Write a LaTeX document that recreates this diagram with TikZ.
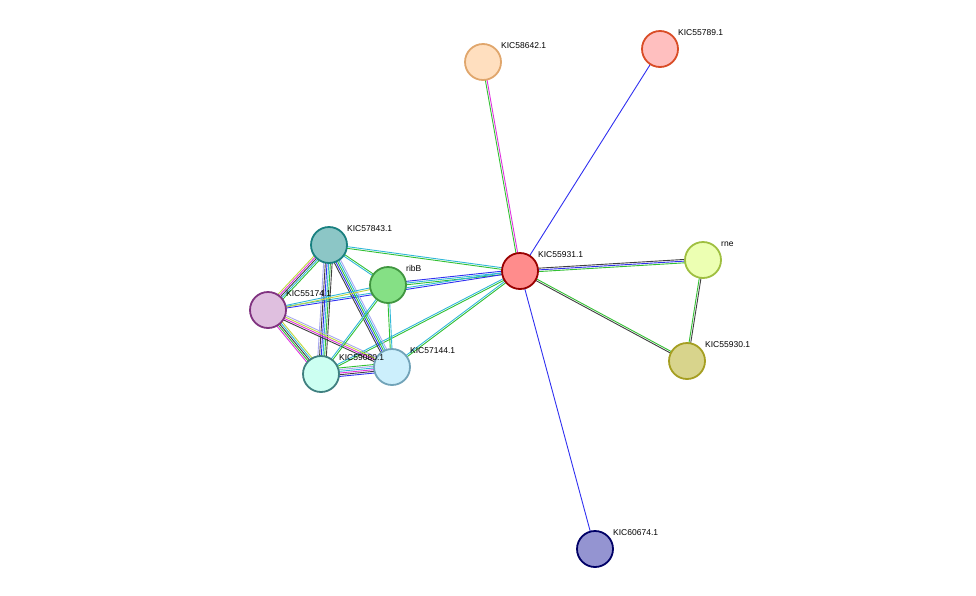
\documentclass[tikz,border=0pt]{standalone}
\usepackage{fontspec}
\setmainfont{Liberation Sans}
\usetikzlibrary{calc}
\definecolor{eg}{HTML}{33C033}\definecolor{eb}{HTML}{3030F0}\definecolor{ec}{HTML}{30B8D8}
\definecolor{em}{HTML}{E030E0}\definecolor{ey}{HTML}{C0D840}\definecolor{ek}{HTML}{404040}
\definecolor{el}{HTML}{A8A8F0}
\newcommand\edg[4]{\foreach \c [count=\i] in {#4} {\pgfmathsetmacro\o{(\i-(#3+1)/2)*1.7}
 \draw[draw=\c,line width=0.9pt] ($(#1)!\o pt!90:(#2)$) -- ($(#2)!\o pt!-90:(#1)$);}}
\tikzset{nd/.style={circle,minimum size=36pt,inner sep=0pt,line width=1.8pt},
 lb/.style={font=\fontsize{8.5pt}{10pt}\selectfont,anchor=south west,inner sep=1pt}}
\begin{document}
\begin{tikzpicture}[x=1pt,y=-1pt]
\useasboundingbox (0,0) rectangle (976,595);
\coordinate (a) at (483,62); \coordinate (b) at (660,49); \coordinate (c) at (329,245);
\coordinate (d) at (388,285); \coordinate (e) at (268,310); \coordinate (f) at (321,374);
\coordinate (g) at (392,367); \coordinate (h) at (520,271); \coordinate (i) at (703,260);
\coordinate (j) at (687,361); \coordinate (k) at (595,549);
\edg{a}{h}{2}{eg,em}
\edg{b}{h}{1}{eb}
\edg{k}{h}{1}{eb}
\edg{h}{i}{3}{eg,eb,ek}
\edg{h}{j}{2}{ek,eg}
\edg{i}{j}{2}{eg,ek}
\edg{c}{h}{2}{eg,ec}
\edg{d}{h}{3}{eg,ec,eb}
\edg{e}{h}{2}{eb,ec}
\edg{f}{h}{2}{eg,ec}
\edg{g}{h}{2}{eg,ec}
\edg{c}{e}{5}{ey,em,ek,ec,eg}
\edg{c}{f}{6}{el,ek,eb,ec,eg,ek}
\edg{c}{g}{5}{ek,eb,eg,ec,el}
\edg{c}{d}{2}{ec,eg}
\edg{e}{d}{2}{ey,ec}
\edg{e}{f}{5}{em,eg,ek,ec,ey}
\edg{e}{g}{4}{ek,em,ey,el}
\edg{f}{g}{6}{eb,ek,em,ec,el,eg}
\edg{d}{f}{2}{ec,eg}
\edg{d}{g}{2}{eg,ec}
\node[nd,fill=orange!25,draw=brown!70!orange!70] (A) at (a) {};
\node[nd,fill=red!25,draw=red!40!brown] (B) at (b) {};
\node[nd,fill=teal!45!white,draw=teal!80!gray] (C) at (c) {};
\node[nd,fill=green!60!gray!60,draw=green!45!black!75] (D) at (d) {};
\node[nd,fill=violet!25,draw=violet!60!gray] (E) at (e) {};
\node[nd,fill=green!25!cyan!20,draw=teal!50!gray] (F) at (f) {};
\node[nd,fill=cyan!20,draw=cyan!40!gray] (G) at (g) {};
\node[nd,fill=red!45,draw=red!60!black] (H) at (h) {};
\node[nd,fill=lime!30,draw=lime!50!gray] (I) at (i) {};
\node[nd,fill=yellow!50!gray!70,draw=olive!80] (J) at (j) {};
\node[nd,fill=blue!40!gray!60,draw=blue!40!black] (K) at (k) {};
\node[lb] at ($(a)+(17,-12)$) {KIC58642.1};
\node[lb] at ($(b)+(17,-12)$) {KIC55789.1};
\node[lb] at ($(c)+(17,-12)$) {KIC57843.1};
\node[lb] at ($(d)+(17,-12)$) {ribB};
\node[lb] at ($(e)+(17,-12)$) {KIC55174.1};
\node[lb] at ($(f)+(17,-12)$) {KIC59080.1};
\node[lb] at ($(g)+(17,-12)$) {KIC57144.1};
\node[lb] at ($(h)+(17,-12)$) {KIC55931.1};
\node[lb] at ($(i)+(17,-12)$) {rne};
\node[lb] at ($(j)+(17,-12)$) {KIC55930.1};
\node[lb] at ($(k)+(17,-12)$) {KIC60674.1};
\end{tikzpicture}
\end{document}
